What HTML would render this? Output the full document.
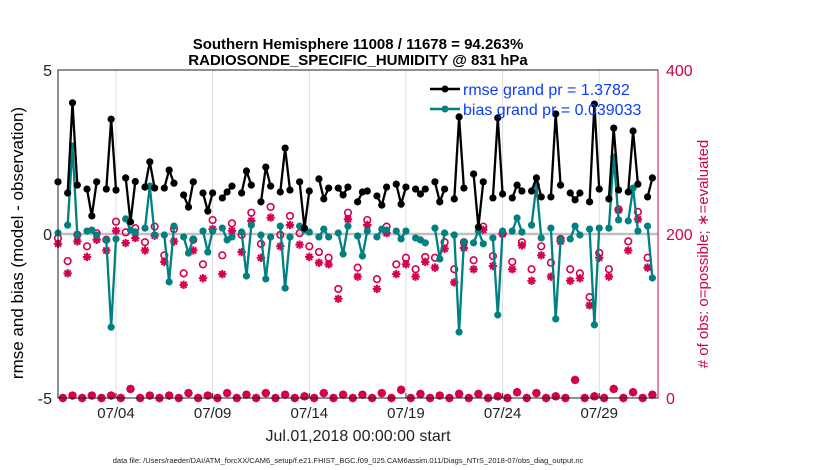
<!DOCTYPE html>
<html><head><meta charset="utf-8"><style>
body{margin:0;background:#fff;}
svg{display:block;font-family:"Liberation Sans",sans-serif;}
</style></head><body>
<svg id="chart" width="830" height="470" viewBox="0 0 830 470" xmlns="http://www.w3.org/2000/svg">
<text x="358" y="49" text-anchor="middle" font-size="15" font-weight="bold">Southern Hemisphere 11008 / 11678 = 94.263%</text>
<text x="358" y="65" text-anchor="middle" font-size="15" font-weight="bold">RADIOSONDE_SPECIFIC_HUMIDITY @ 831 hPa</text>
<g id="grid"></g>
<line x1="58" y1="234" x2="658" y2="234" stroke="#c0c0c0" stroke-width="2.5"/>
<g id="marks"></g>
<rect x="58" y="70" width="600" height="328" fill="none" stroke="#222" stroke-width="1"/>
<line x1="658" y1="70" x2="658" y2="398" stroke="#d4004f" stroke-width="1"/>
<g id="axes"></g>
<g>
 <line x1="430" y1="89" x2="460" y2="89" stroke="#000" stroke-width="2.5"/>
 <circle cx="445" cy="89" r="3.5" fill="#000"/>
 <text x="463" y="95" font-size="16" fill="#0a3cff">rmse grand pr = 1.3782</text>
 <line x1="430" y1="109" x2="460" y2="109" stroke="#008080" stroke-width="2.5"/>
 <circle cx="445" cy="109" r="3.5" fill="#008080"/>
 <text x="463" y="115" font-size="16" fill="#0a3cff">bias grand pr = 0.039033</text>
</g>
<text transform="translate(23,243) rotate(-90)" text-anchor="middle" font-size="17">rmse and bias (model - observation)</text>
<text transform="translate(708,254) rotate(-90)" text-anchor="middle" font-size="15" fill="#d4004f"># of obs: o=possible; ∗=evaluated</text>
<text x="358" y="441" text-anchor="middle" font-size="16" fill="#222">Jul.01,2018 00:00:00 start</text>
<text x="348" y="463" text-anchor="middle" font-size="7.5" fill="#222">data file: /Users/raeder/DAI/ATM_forcXX/CAM6_setup/f.e21.FHIST_BGC.f09_025.CAM6assim.011/Diags_NTrS_2018-07/obs_diag_output.nc</text>
</svg>
<script>
const xTickDays = [3, 8, 13, 18, 23, 28];
const xTickLabels = ["07/04", "07/09", "07/14", "07/19", "07/24", "07/29"];
const yLeftTicks = [5, 0, -5];
const yRightTicks = [400, 200, 0];
// 6-hourly slots starting Jul 01 00Z; null = no data
const rmse = [1.59,null,1.25,4.0,1.49,null,1.37,0.55,1.59,null,1.37,3.5,1.34,null,1.71,0.37,1.6,null,1.43,2.2,1.4,null,1.4,1.95,1.55,null,1.19,0.82,1.59,null,1.25,0.7,1.25,null,1.1,1.28,1.46,null,1.25,1.92,1.49,null,0.98,2.04,1.46,null,1.28,2.62,1.34,null,1.59,0.18,1.31,null,1.68,1.07,1.4,null,1.4,1.19,1.43,null,0.98,1.28,1.31,null,1.16,0.88,1.43,null,1.52,0.91,1.43,null,1.37,1.22,1.37,null,1.59,0.98,1.37,null,1.07,3.57,1.4,null,1.83,0.21,1.59,null,1.1,3.54,1.22,null,1.1,1.49,1.31,null,1.31,1.71,1.13,null,1.13,3.66,1.49,null,1.25,1.04,1.25,null,0.98,3.96,1.37,null,1.07,3.23,1.34,null,1.28,3.14,1.52,null,1.13,1.71];
const bias = [0.03,null,0.27,2.68,-0.03,null,0.09,0.12,-0.03,null,-0.18,-2.84,-0.15,null,0.46,0.12,0.06,null,0.18,1.46,-0.03,null,-0.03,-1.46,0.24,null,-0.09,-0.58,-0.15,null,0.09,-0.55,0.09,null,0.18,-0.18,-0.09,null,0.06,-1.28,0.27,null,-0.03,-1.37,-0.09,null,0.24,-1.65,-0.09,null,0.24,0.12,0.06,null,-0.09,0.15,-0.09,null,0.03,-0.61,0.24,null,-0.06,-0.67,0.09,null,-0.09,0.15,0.12,null,0.09,-0.15,0.09,null,-0.12,-0.18,-0.27,null,0.18,-0.76,0.03,null,-0.03,-2.99,-0.24,null,-0.27,0.09,-0.3,null,-0.12,-2.47,0.09,null,0.09,0.49,0.06,null,0.27,1.49,-0.12,null,0.18,-2.59,-0.18,null,-0.15,0.24,-0.03,null,0.15,-2.77,0.18,null,0.18,2.35,0.43,null,0.4,1.4,0.09,null,0.24,-1.34];
const nPossible = [195,0,167,3,199,0,185,3,201,0,193,3,215,0,202,11,207,0,190,3,209,0,174,3,206,0,152,6,193,0,163,3,217,0,174,6,213,0,199,4,226,0,188,6,233,0,199,4,222,0,201,2,185,0,178,6,171,0,133,4,226,0,159,4,217,0,145,6,209,0,163,10,171,0,157,5,172,0,171,3,190,0,157,5,190,0,168,5,209,0,173,2,201,0,166,7,190,0,157,6,185,0,165,2,194,0,157,22,152,0,123,2,177,0,157,11,230,0,191,7,227,0,171,4];
const nEvaluated = [188,0,152,3,191,0,172,3,193,0,180,3,204,0,189,11,195,0,180,3,198,0,166,3,191,0,138,6,180,0,146,3,206,0,151,6,204,0,178,4,216,0,171,6,220,0,185,4,211,0,187,2,172,0,165,6,163,0,121,4,218,0,148,4,211,0,133,6,201,0,151,10,163,0,148,5,166,0,159,3,182,0,141,5,183,0,157,5,205,0,161,2,200,0,157,7,186,0,143,6,174,0,148,2,191,0,143,22,146,0,113,2,171,0,148,11,229,0,180,7,218,0,159,4];

const NS = "http://www.w3.org/2000/svg";
const X0 = 58, X1 = 658, Y0 = 70, Y1 = 398;
const DAYS = 600 / 19.33;
const xs = d => X0 + (d / DAYS) * (X1 - X0);
const yL = v => Y1 - (v + 5) / 10 * (Y1 - Y0);
const yR = v => Y1 - v / 400 * (Y1 - Y0);
const slotDay = i => i * 0.25;
const PINK = "#d4004f";
function mk(tag, attrs, parent) { const e = document.createElementNS(NS, tag); for (const k in attrs) e.setAttribute(k, attrs[k]); parent.appendChild(e); return e; }
const grid = document.getElementById('grid'), axes = document.getElementById('axes'), marks = document.getElementById('marks');

xTickDays.forEach((d, k) => {
  const g = mk('line', {x1: xs(d), x2: xs(d), y1: Y0, y2: Y1, stroke: '#dcdcdc', 'stroke-width': 1}, grid);
  
  
  const t = mk('line', {x1: xs(d), x2: xs(d), y1: Y1, y2: Y1 - 5, stroke: '#222'}, axes);
  
  
  const l = mk('text', {x: xs(d), y: 418, 'text-anchor': 'middle', 'font-size': 15, fill: '#222'}, axes);
  l.textContent = xTickLabels[k];
  
  
});
yLeftTicks.forEach(v => {
  const l = mk('text', {x: 52, y: yL(v) + 6, 'text-anchor': 'end', 'font-size': 16, fill: '#222'}, axes);
  l.textContent = v;
  
  
});
yRightTicks.forEach(v => {
  const l = mk('text', {x: 666, y: yR(v) + 6, 'font-size': 16, fill: PINK}, axes);
  l.textContent = v;
  
  
});

nPossible.forEach((v, i) => {
  const c = mk('circle', {cx: xs(slotDay(i)), cy: yR(v), r: 3.3, fill: 'none', stroke: PINK, 'stroke-width': 1.6}, marks);
  
  
});
nEvaluated.forEach((v, i) => {
  const cx = xs(slotDay(i)), cy = yR(v), r = 4.2;
  const p = mk('path', {d: `M${cx-r},${cy}H${cx+r}M${cx},${cy-r}V${cy+r}M${cx-3},${cy-3}L${cx+3},${cy+3}M${cx-3},${cy+3}L${cx+3},${cy-3}`, stroke: PINK, 'stroke-width': 2}, marks);
  
  
});

function series(vals, color, name) {
  let d = '', pen = false;
  vals.forEach((v, i) => {
    if (v === null) { pen = false; return; }
    d += (pen ? 'L' : 'M') + xs(slotDay(i)).toFixed(1) + ',' + yL(v).toFixed(1);
    pen = true;
  });
  const p = mk('path', {d: d, fill: 'none', stroke: color, 'stroke-width': 2.3}, marks);
  
  
  vals.forEach((v, i) => {
    if (v === null) return;
    const c = mk('circle', {cx: xs(slotDay(i)), cy: yL(v), r: 3.6, fill: color}, marks);
    
    
  });
}
series(bias, '#008080', 'bias');
series(rmse, '#000000', 'rmse');
</script>
</body></html>
